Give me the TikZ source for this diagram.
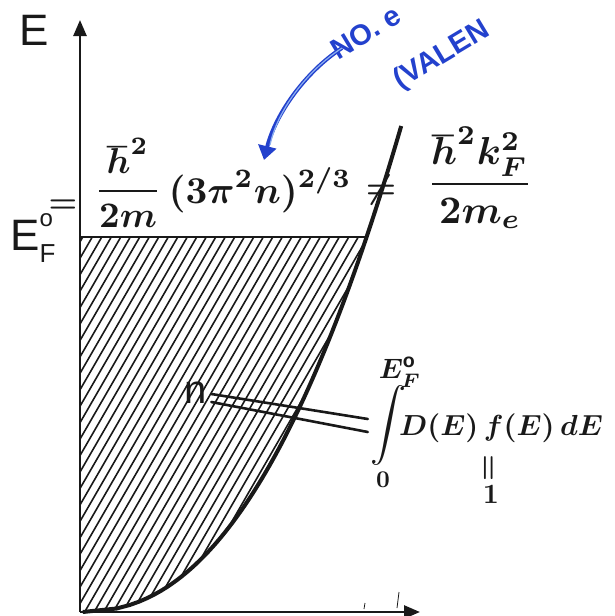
\documentclass[tikz,border=0pt]{standalone}
\usepackage{fontspec}
\setmainfont{Liberation Sans}
\usetikzlibrary{arrows.meta}
\definecolor{pen}{RGB}{25,25,25}
\definecolor{bluepen}{RGB}{35,65,205}
\definecolor{bluelight}{RGB}{140,175,240}
\newcommand{\mkmath}[2]{\scalebox{#1}{\boldmath$\displaystyle #2$}}
\tikzset{
  axisline/.style={pen, line width=2.6pt},
  curveline/.style={pen, line width=4pt},
  hatchline/.style={pen, line width=1.6pt},
  marker/.style={pen, inner sep=0pt},
  thinlabel/.style={pen, inner sep=0pt},
  bluetext/.style={bluepen, inner sep=0pt, rotate=31, font=\fontsize{29}{32}\selectfont\bfseries},
  equalline/.style={pen, line width=2.6pt, line cap=round},
}
\begin{document}
\begin{tikzpicture}[x=1pt,y=-1pt,
  declare function={cx(\t)=80+21.12*(\t)^0.44;}]
\useasboundingbox (0,0) rectangle (614,616);

% axes
\coordinate (O) at (80,612);
\coordinate (ytop) at (80,20);
\coordinate (xend) at (420,612);
\draw[axisline, -{Triangle[length=16pt,width=13pt]}] (O) -- (ytop);
\draw[axisline, -{Triangle[length=16pt,width=13pt]}] (O) -- (xend);

% hatched region
\begin{scope}
  \clip (80,612) -- plot[domain=0.01:375, samples=80] ({cx(\x)},{612-\x}) -- (80,237) -- cycle;
  \foreach \i in {-26,...,32} \draw[hatchline] (80+\i*9.5,620) -- ++(260,-450);
\end{scope}

% Fermi level line
\coordinate (ef0) at (80,237);
\coordinate (ef1) at ({cx(375)},237);
\draw[axisline] (ef0) -- (ef1);

% curve
\draw[curveline] plot[domain=0.01:486, samples=140] ({cx(\x)},{612-\x});

% small ticks
\coordinate (t1a) at (365,603); \coordinate (t1b) at (364,609);
\coordinate (t2a) at (399,592); \coordinate (t2b) at (397,608);
\draw[pen, line width=0.8pt] (t1a) -- (t1b);
\draw[pen, line width=0.8pt] (t2a) -- (t2b);

% labels
\node[thinlabel, font=\fontsize{44}{48}\selectfont] (Elab) at (34,30) {E};
\node[thinlabel, font=\fontsize{44}{48}\selectfont, anchor=west] (EFlab) at (10,238)
  {E\rlap{\raisebox{0.55em}{\fontsize{24}{26}\selectfont o}}\raisebox{-0.28em}{\fontsize{26}{28}\selectfont F}};

% top formula
\node[marker] (eqL) at (63,206) {\mkmath{3.2}{=}};
\node[marker] (frac1) at (128,183) {\mkmath{3.6}{\frac{\hbar^2}{2m}}};
\node[marker] (paren) at (260,190) {\mkmath{3.8}{(3\pi^2 n)^{2/3}}};
\node[marker] (neq) at (381,190) {\mkmath{3.4}{\neq}};
\node[marker] (frac2) at (480,178) {\mkmath{3.9}{\frac{\hbar^2k_F^2}{2m_e}}};

% n and integral
\node[thinlabel, font=\fontsize{40}{44}\selectfont] (nlab) at (196,393) {n};
\node[marker] (intS) at (388,425) {\mkmath{3.6}{\int}};
\node[marker] (upl) at (400,372) {\mkmath{2.8}{E_F^{\mathrm{o}}}};
\node[marker] (lowl) at (383,480) {\mkmath{2.4}{0}};
\node[marker, anchor=west] (integ) at (399,428) {\mkmath{2.9}{D(E)\,f(E)\,dE}};
\node[marker, rotate=90] (veq) at (490,468) {\mkmath{3}{=}};
\node[marker] (one) at (491,494) {\mkmath{2.8}{1}};

% double connector n = integral
\draw[equalline] ([shift={(4,1)}]nlab.east) -- ([shift={(-2,-6)}]intS.west);
\draw[equalline] ([shift={(4,9)}]nlab.east) -- ([shift={(-2,7)}]intS.west);

% blue annotation
\node[bluetext] (bt1) at (366,32) {NO. e};
\node[bluetext] (bt2) at (442,56) {(VALEN};
\coordinate (bA) at (342,48);
\coordinate (bB) at (264,160);
\draw[bluepen, line width=4pt, -{Triangle[length=14pt,width=18pt]}] (bA) .. controls (305,72) and (275,115) .. (bB);
\draw[bluelight, line width=1.2pt] (bA) .. controls (305,72) and (277,112) .. (270,145);
\end{tikzpicture}
\end{document}
